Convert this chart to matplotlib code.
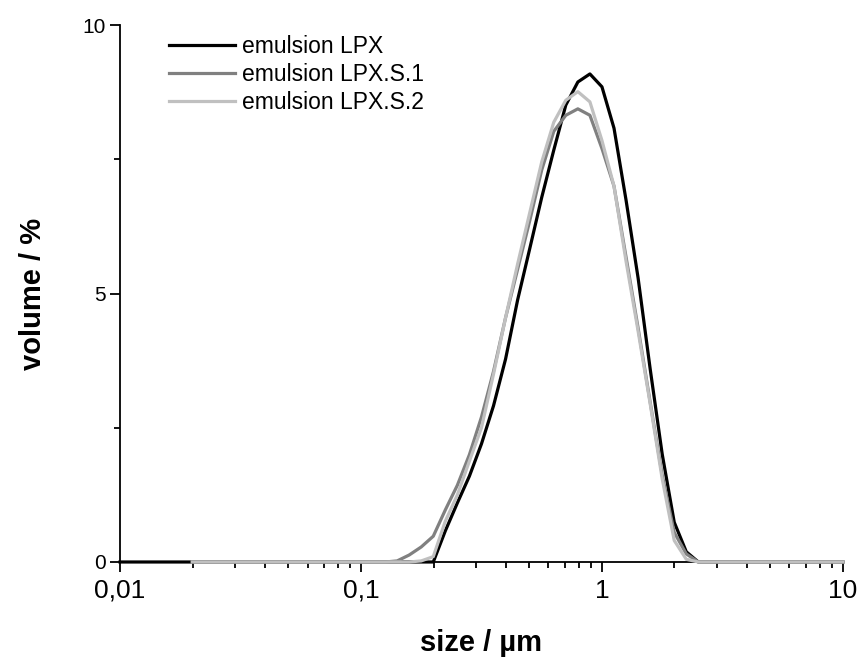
import numpy as np
import matplotlib
matplotlib.use('Agg')
import matplotlib.pyplot as plt
from matplotlib.ticker import FixedLocator, FixedFormatter, LogLocator, NullFormatter

# bin sizes in um, 20 bins per decade
k_lpx = np.arange(-40, 21)
k_s = np.arange(-34, 21)
size_lpx = 10.0 ** (k_lpx / 20.0)
size_s = 10.0 ** (k_s / 20.0)

# volume % per bin (non-zero part from 0.14 um to 2.5 um)
lpx_peak = [0.0, 0.58, 1.1, 1.6, 2.2, 2.91, 3.78, 4.88, 5.83, 6.79, 7.67, 8.51, 8.94, 9.09,
            8.85, 8.08, 6.74, 5.29, 3.6, 2.01, 0.74, 0.19, 0.0]      # k = -14 .. 8
s1_peak = [0.0, 0.02, 0.13, 0.28, 0.48, 0.97, 1.43, 2.0, 2.7, 3.55, 4.55, 5.45, 6.35, 7.3, 8.02,
           8.32, 8.44, 8.32, 7.7, 7.0, 5.68, 4.36, 2.98, 1.62, 0.55, 0.15, 0.0]  # k = -18 .. 8
s2_peak = [0.0, 0.02, 0.1, 0.76, 1.25, 1.88, 2.5, 3.5, 4.55, 5.55, 6.5, 7.45, 8.19, 8.6, 8.76,
           8.57, 7.85, 7.0, 5.6, 4.3, 2.95, 1.55, 0.4, 0.05, 0.0]    # k = -16 .. 8

vol_lpx = np.zeros(len(k_lpx))
vol_lpx[(k_lpx >= -14) & (k_lpx <= 8)] = lpx_peak
vol_s1 = np.zeros(len(k_s))
vol_s1[(k_s >= -18) & (k_s <= 8)] = s1_peak
vol_s2 = np.zeros(len(k_s))
vol_s2[(k_s >= -16) & (k_s <= 8)] = s2_peak

labels = ['emulsion LPX', 'emulsion LPX.S.1', 'emulsion LPX.S.2']
colors = ['#000000', '#808080', '#c0c0c0']

x_ticks = [0.01, 0.1, 1, 10]
x_ticklabels = ['0,01', '0,1', '1', '10']
y_ticks = [0, 5, 10]

plt.rcParams['font.family'] = ['Liberation Sans', 'DejaVu Sans']

fig = plt.figure(figsize=(8.61, 6.6), dpi=100)
ax = fig.add_axes([0.1394, 0.1485, 0.8396, 0.8135])

for xs, ys, lab, col in zip([size_lpx, size_s, size_s], [vol_lpx, vol_s1, vol_s2], labels, colors):
    ax.plot(xs, ys, color=col, lw=2.3, label=lab, clip_on=False, zorder=3)

ax.set_xscale('log')
ax.set_xlim(0.01, 10)
ax.set_ylim(0, 10)

ax.xaxis.set_major_locator(FixedLocator(x_ticks))
ax.xaxis.set_major_formatter(FixedFormatter(x_ticklabels))
ax.xaxis.set_minor_locator(LogLocator(base=10, subs=np.arange(2, 10)))
ax.xaxis.set_minor_formatter(NullFormatter())
ax.set_yticks(y_ticks)
ax.set_yticks([2.5, 7.5], minor=True)

ax.tick_params(axis='both', which='major', direction='out', length=7, width=1.3)
ax.tick_params(axis='both', which='minor', direction='out', length=4, width=1.3)
ax.tick_params(axis='x', which='major', labelsize=19, pad=5)
ax.tick_params(axis='y', which='major', labelsize=15, pad=3)

ax.spines['top'].set_visible(False)
ax.spines['right'].set_visible(False)
ax.spines['left'].set_linewidth(1.3)
ax.spines['bottom'].set_linewidth(1.3)

ax.set_xlabel('size / µm', fontsize=21, fontweight='bold', labelpad=19)
ax.set_ylabel('volume / %', fontsize=21, fontweight='bold', labelpad=26)

ax.legend(loc='upper left', bbox_to_anchor=(0.055, 0.998), frameon=False, fontsize=16.5,
          handlelength=2.9, handletextpad=0.3, labelspacing=0.22, borderaxespad=0)

fig.savefig('out.png', dpi=100)
